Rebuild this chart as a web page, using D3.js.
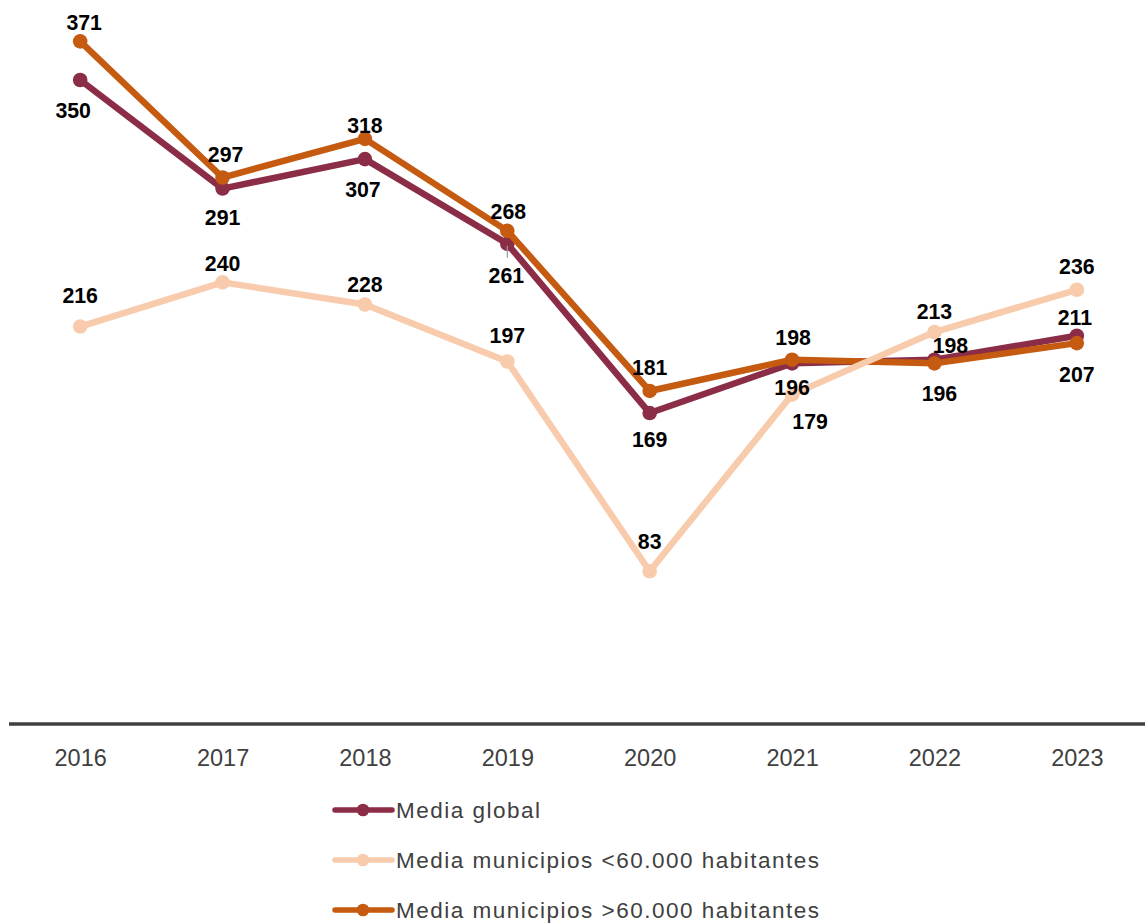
<!DOCTYPE html>
<html>
<head>
<meta charset="utf-8">
<script src="https://cdn.jsdelivr.net/npm/d3@7"></script>
<style>
  html, body { margin: 0; padding: 0; background: #fff; }
  svg { display: block; }
</style>
</head>
<body>
<svg id="chart" width="1145" height="924"></svg>
<script>
// ---- Data ----
const years = ["2016", "2017", "2018", "2019", "2020", "2021", "2022", "2023"];
const mediaGlobal = [350, 291, 307, 261, 169, 196, 198, 211];
const mediaMenos60k = [216, 240, 228, 197, 83, 179, 213, 236];
const mediaMas60k = [371, 297, 318, 268, 181, 198, 196, 207];
const seriesNames = ["Media global", "Media municipios <60.000 habitantes", "Media municipios >60.000 habitantes"];

// ---- Label placement (offsets from each point, px) ----
const offGlobal = [[-7, 30], [0, 29], [-2, 30], [-1, 32], [0, 26], [0, 24], [16, -14], [-2, -18]];
const offMenos = [[0, -31], [0, -19], [0, -20.5], [0, -26.5], [0, -30], [18, 27], [0, -21], [0, -23]];
const offMas = [[4, -18.5], [3, -23.5], [0, -13], [1, -19], [0, -24], [1, -22], [5, 30], [0, 31]];

const colors = { global: "#8B2D46", menos: "#F8CBAD", mas: "#C55A11" };

const svg = d3.select("#chart");
const x = d3.scalePoint().domain(years).range([9, 1148]).padding(0.5);
const y = d3.scaleLinear().domain([0, 400]).range([724, -12]);

// axis
const axisG = svg.append("g").attr("transform", "translate(0,724)")
  .call(d3.axisBottom(x).tickSize(0).tickPadding(0));
axisG.select(".domain").remove();
axisG.selectAll("text")
  .attr("y", 42).attr("dy", null)
  .attr("font-family", "'Liberation Sans', Arial, sans-serif")
  .attr("font-size", "23.5px")
  .attr("fill", "#404040");
svg.append("line")
  .attr("x1", 9).attr("x2", 1145).attr("y1", 724).attr("y2", 724)
  .attr("stroke", "#404040").attr("stroke-width", 3.5);

const series = [
  { key: "global", values: mediaGlobal, off: offGlobal, color: colors.global },
  { key: "mas", values: mediaMas60k, off: offMas, color: colors.mas },
  { key: "menos", values: mediaMenos60k, off: offMenos, color: colors.menos }
];

const line = d3.line().x((d, i) => x(years[i])).y(d => y(d));

series.forEach(s => {
  const g = svg.append("g");
  g.append("path").datum(s.values)
    .attr("d", line).attr("fill", "none")
    .attr("stroke", s.color).attr("stroke-width", 6.5)
    .attr("stroke-linejoin", "round");
  g.selectAll("circle").data(s.values).join("circle")
    .attr("cx", (d, i) => x(years[i])).attr("cy", d => y(d))
    .attr("r", 7.3).attr("fill", s.color);
});

// leader line for 261 label
svg.append("line")
  .attr("x1", x("2019")).attr("x2", x("2019"))
  .attr("y1", y(mediaGlobal[3]) + 2).attr("y2", y(mediaGlobal[3]) + 14)
  .attr("stroke", "#9a9a9a").attr("stroke-width", 1.2);

// labels
series.forEach(s => {
  svg.append("g").selectAll("text").data(s.values).join("text")
    .attr("x", (d, i) => x(years[i]) + s.off[i][0])
    .attr("y", (d, i) => y(d) + s.off[i][1] + 7.6)
    .attr("text-anchor", "middle")
    .attr("font-family", "'Liberation Sans', Arial, sans-serif")
    .attr("font-weight", "bold")
    .attr("font-size", "21.3px")
    .attr("fill", "#000")
    .text(d => d);
});

// legend
const legendColors = [colors.global, colors.menos, colors.mas];
const lg = svg.append("g");
seriesNames.forEach((name, i) => {
  const cy = 810 + i * 50;
  lg.append("line").attr("x1", 335).attr("x2", 392).attr("y1", cy).attr("y2", cy)
    .attr("stroke", legendColors[i]).attr("stroke-width", 5.5).attr("stroke-linecap", "round");
  lg.append("circle").attr("cx", 363).attr("cy", cy).attr("r", 6.3).attr("fill", legendColors[i]);
  lg.append("text").attr("x", 396).attr("y", cy + 8)
    .attr("font-family", "'Liberation Sans', Arial, sans-serif")
    .attr("font-size", "22.5px")
    .attr("letter-spacing", "1.5px")
    .attr("fill", "#404040")
    .text(name);
});
</script>
</body>
</html>
